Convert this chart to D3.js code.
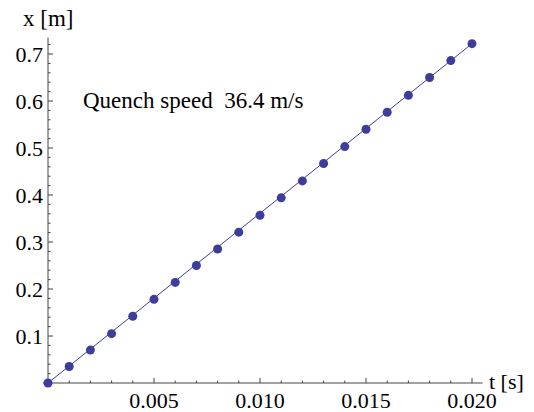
<!DOCTYPE html>
<html><head><meta charset="utf-8">
<script src="https://cdn.jsdelivr.net/npm/d3@7"></script>
</head><body style="margin:0;background:#fff"><svg id="c" width="534" height="412"></svg>
<script>
const tValues = [0,0.001,0.002,0.003,0.004,0.005,0.006,0.007,0.008,0.009,0.010,0.011,0.012,0.013,0.014,0.015,0.016,0.017,0.018,0.019,0.020];
const xValues = [0,0.035,0.070,0.105,0.142,0.178,0.214,0.250,0.285,0.321,0.357,0.394,0.430,0.467,0.503,0.540,0.576,0.612,0.650,0.686,0.722];
const xTickValues = [0.005,0.010,0.015,0.020];
const xTickLabels = ["0.005","0.010","0.015","0.020"];
const yTickValues = [0.1,0.2,0.3,0.4,0.5,0.6,0.7];
const yTickLabels = ["0.1","0.2","0.3","0.4","0.5","0.6","0.7"];
const fitT = [0, 0.020];
const fitX = [0, 0.722];
const annotation = "Quench speed\u00a0\u00a036.4 m/s";

const svg = d3.select("#c");
const x = d3.scaleLinear().domain([0,0.020]).range([48,472]);
const y = d3.scaleLinear().domain([0,0.7]).range([383,54]);
const col = "#3d3d9c";
function txt(xp,yp,s,anchor,size){
  return svg.append("text").attr("x",xp).attr("y",yp).attr("text-anchor",anchor||"start")
    .style("font-family",'"Liberation Serif", monospace').attr("font-size",size||22).attr("fill","#000").text(s);
}

// x axis
const gx = svg.append("g");
gx.append("line").attr("x1",x(0)-5).attr("x2",x(0.0205)).attr("y1",y(0)).attr("y2",y(0)).attr("stroke","#444").attr("stroke-width",1);
d3.range(1,21).forEach(i=>{
  const v=i*0.001, major=i%5===0;
  gx.append("line").attr("x1",x(v)).attr("x2",x(v)).attr("y1",y(0)).attr("y2",y(0)-(major?5:2.5)).attr("stroke","#444");
});
xTickValues.forEach((v,i)=>txt(x(v),408,xTickLabels[i],"middle"));
txt(489,389,"t [s]");

// y axis
const gy = svg.append("g");
gy.append("line").attr("x1",x(0)).attr("x2",x(0)).attr("y1",y(0)).attr("y2",y(0.735)).attr("stroke","#444");
d3.range(1,37).forEach(i=>{
  const v=i*0.02, major=i%5===0;
  gy.append("line").attr("x1",x(0)).attr("x2",x(0)+(major?5:2.5)).attr("y1",y(v)).attr("y2",y(v)).attr("stroke","#444");
});
yTickValues.forEach((v,i)=>txt(43,y(v)+8,yTickLabels[i],"end"));
txt(23,26,"x [m]",null,23);

// fit line
svg.append("path").datum(fitT.map((t,i)=>[t,fitX[i]]))
  .attr("d",d3.line().x(d=>x(d[0])).y(d=>y(d[1]))).attr("fill","none").attr("stroke",col).attr("stroke-width",1);
// points
svg.selectAll("circle.p").data(tValues.map((t,i)=>[t,xValues[i]])).enter().append("circle")
  .attr("cx",d=>x(d[0])).attr("cy",d=>y(d[1])).attr("r",4.5).attr("fill",col);

txt(83,108,annotation,null,23);
</script></body></html>
